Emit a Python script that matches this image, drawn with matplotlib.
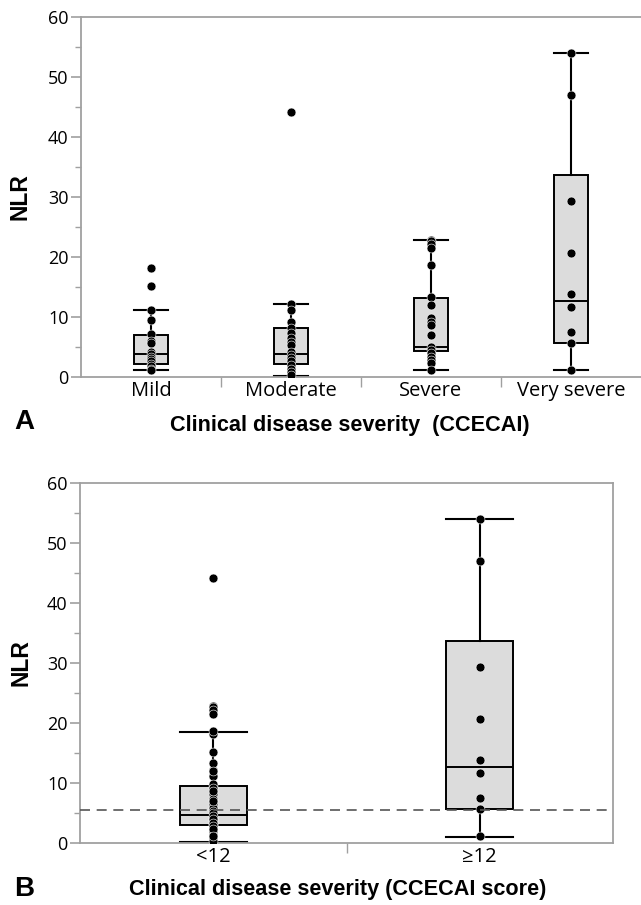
import numpy as np
import matplotlib
matplotlib.use('Agg')
import matplotlib.pyplot as plt

# ---- data ----
cats_a = ['Mild', 'Moderate', 'Severe', 'Very severe']
mild = [18.2, 15.2, 11.2, 9.5, 7.1, 6.0, 5.6, 4.2, 3.8, 3.4, 3.0, 2.6, 2.2, 1.8, 1.4, 1.1]
moderate = [44.1, 12.2, 11.1, 9.2, 8.1, 7.3, 6.5, 5.8, 5.3, 4.2, 3.7, 3.2, 2.6, 2.0, 1.4, 0.8, 0.3]
severe = [22.8, 22.6, 22.1, 21.5, 18.6, 13.3, 12.0, 9.8, 9.2, 8.6, 7.0, 5.0, 4.5, 4.0, 3.4, 2.8, 2.3, 1.1]
very_severe = [54.0, 47.0, 29.4, 20.6, 13.9, 11.7, 7.45, 5.7, 1.1]

# box stats (q1, median, q3, whisker low, whisker high) as drawn in the figure
q1_a = [2.2, 2.2, 4.4, 5.7]
med_a = [3.8, 3.8, 5.0, 12.7]
q3_a = [7.0, 8.2, 13.2, 33.7]
wlo_a = [1.2, 0.2, 1.1, 1.1]
whi_a = [11.2, 12.2, 22.8, 54.0]

cats_b = ['<12', '≥12']
q1_b = [3.0, 5.75]
med_b = [4.75, 12.7]
q3_b = [9.5, 33.7]
wlo_b = [0.2, 1.0]
whi_b = [18.5, 54.0]
cutoff = 5.5

groups_a = [mild, moderate, severe, very_severe]
groups_b = [mild + moderate + severe, very_severe]

tick_font = 'Open Sans'
label_font = 'Liberation Sans'
spine_col = '#a0a0a0'


def make_stats(q1, med, q3, wlo, whi):
    return [dict(q1=a, med=b, q3=c, whislo=d, whishi=e, fliers=[])
            for a, b, c, d, e in zip(q1, med, q3, wlo, whi)]


def draw_panel(ax, cats, groups, stats, width):
    pos = np.arange(len(cats))
    ax.bxp(stats, positions=pos, widths=width, patch_artist=True,
           showfliers=False,
           boxprops=dict(facecolor='#dcdcdc', edgecolor='black', linewidth=1.4),
           medianprops=dict(color='black', linewidth=1.4),
           whiskerprops=dict(color='black', linewidth=1.5),
           capprops=dict(color='black', linewidth=1.5),
           capwidths=width)
    for p, g in zip(pos, groups):
        ax.plot(np.full(len(g), p), g, 'o', color='black', markersize=6.4,
                markeredgecolor='white', markeredgewidth=0.4, zorder=5)
    ax.set_xlim(-0.5, len(cats) - 0.5)
    ax.set_ylim(0, 60)
    ax.set_yticks(np.arange(0, 61, 10))
    ax.set_yticks(np.arange(5, 60, 10), minor=True)
    ax.set_xticks(pos)
    ax.set_xticklabels(cats, fontfamily=tick_font, fontsize=14.5)
    ax.set_xticks(np.arange(0.5, len(cats) - 1, 1), minor=True)
    for lab in ax.get_yticklabels():
        lab.set_fontfamily(tick_font)
        lab.set_fontsize(13)
    ax.tick_params(axis='y', which='major', length=7, color=spine_col, width=1.2, pad=2)
    ax.tick_params(axis='y', which='minor', length=4, color=spine_col, width=1)
    ax.tick_params(axis='x', which='major', length=0, pad=3)
    ax.tick_params(axis='x', which='minor', length=7, color=spine_col, width=1)
    for s in ax.spines.values():
        s.set_color(spine_col)
        s.set_linewidth(1.3)
    ax.set_ylabel('NLR', fontfamily=label_font, fontweight='bold', fontsize=16.5)


fig = plt.figure(figsize=(6.41, 9.05), dpi=100)

ax1 = fig.add_axes([81 / 641, 1 - 377 / 905, 560 / 641, 360 / 905])
draw_panel(ax1, cats_a, groups_a, make_stats(q1_a, med_a, q3_a, wlo_a, whi_a), 0.245)
ax1.spines['right'].set_visible(False)
ax1.set_xlabel('Clinical disease severity  (CCECAI)', fontfamily=label_font,
               fontweight='bold', fontsize=15.6)
ax1.xaxis.set_label_coords(0.48, -0.105)
ax1.yaxis.set_label_coords(-0.089, 0.5)

ax2 = fig.add_axes([80 / 641, 1 - 843 / 905, 533 / 641, 360 / 905])
draw_panel(ax2, cats_b, groups_b, make_stats(q1_b, med_b, q3_b, wlo_b, whi_b), 0.25)
ax2.axhline(cutoff, color='#555555', linestyle=(0, (6, 4)), linewidth=1.2, zorder=6)
ax2.set_xlabel('Clinical disease severity (CCECAI score)', fontfamily=label_font,
               fontweight='bold', fontsize=15.6)
ax2.xaxis.set_label_coords(0.484, -0.1)
ax2.yaxis.set_label_coords(-0.09, 0.5)

fig.text(24 / 641, 1 - 422 / 905, 'A', fontfamily=label_font, fontweight='bold',
         fontsize=20, ha='center', va='center')
fig.text(24 / 641, 1 - 889 / 905, 'B', fontfamily=label_font, fontweight='bold',
         fontsize=20, ha='center', va='center')

fig.savefig('out.png', dpi=100)
